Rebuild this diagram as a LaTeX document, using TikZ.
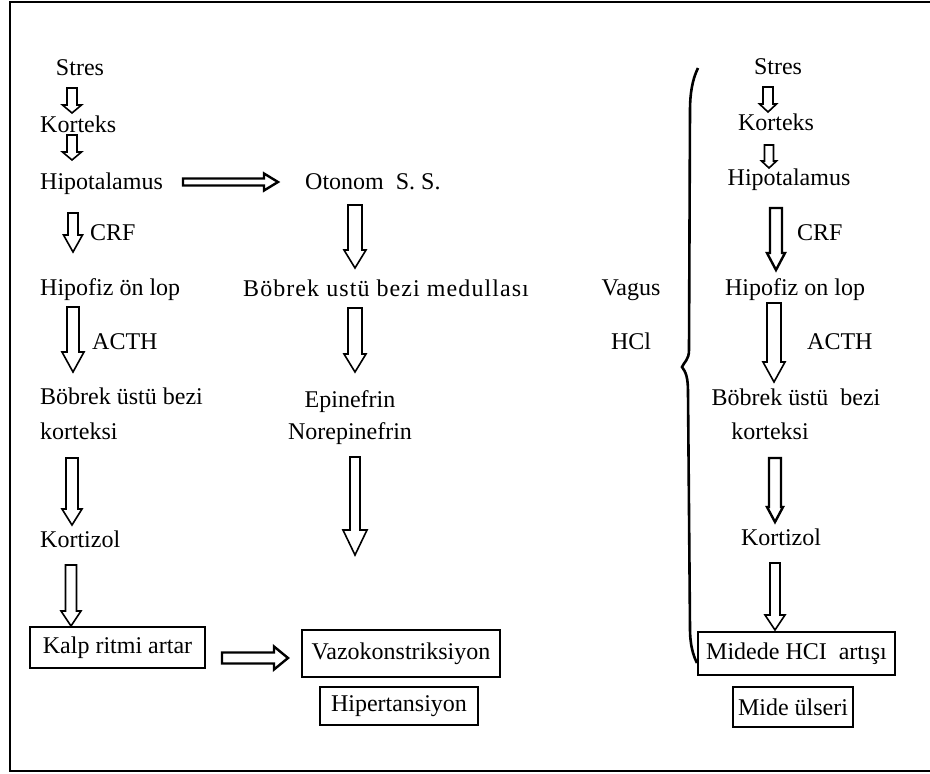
\documentclass[tikz,border=0pt]{standalone}
\usepackage{fontspec}
\setmainfont{Liberation Serif}
\usetikzlibrary{calc}
\tikzset{
  txt/.style={inner sep=0pt, font=\fontsize{24}{28}\selectfont},
  blk/.style={draw=black, line width=1.6pt, fill=white, line join=miter},
  blkb/.style={draw=black, line width=2.4pt, fill=white, line join=miter},
  bx/.style={draw=black, line width=2pt, inner sep=0pt, font=\fontsize{24}{28}\selectfont},
  bracel/.style={draw=black, line width=2.6pt},
  frame/.style={draw=black, line width=2pt}
}
\newcommand\vblk[6][blk]{\draw[#1] ($(#2)+(-#4,0)$) -- ($(#3)+(-#4,-#6)$) -- ($(#3)+(-#5,-#6)$) -- (#3) -- ($(#3)+(#5,-#6)$) -- ($(#3)+(#4,-#6)$) -- ($(#2)+(#4,0)$) -- cycle;}
\newcommand\hblk[6][blk]{\draw[#1] ($(#2)+(0,-#4)$) -- ($(#3)+(-#6,-#4)$) -- ($(#3)+(-#6,-#5)$) -- (#3) -- ($(#3)+(-#6,#5)$) -- ($(#3)+(-#6,#4)$) -- ($(#2)+(0,#4)$) -- cycle;}
\begin{document}
\begin{tikzpicture}[x=1pt,y=-1pt]
\useasboundingbox (0,0) rectangle (930,774);
% frame
\draw[frame] (930,2) -- (10,2) -- (10,771) -- (930,771);

% ---------- left column ----------
\node[txt, anchor=base] (stres) at (80,75) {Stres};
\node[txt, anchor=base west] (korteks) at (40,132) {Korteks};
\node[txt, anchor=base west] (hipo) at (40,189) {Hipotalamus};
\node[txt, anchor=base west] (crf) at (90,240) {CRF};
\node[txt, anchor=base west] (hipofiz) at (40,295) {Hipofiz ön lop};
\node[txt, anchor=base west] (acth) at (92,349) {ACTH};
\node[txt, anchor=base west] (bobrek) at (40,404) {Böbrek üstü bezi};
\node[txt, anchor=base west] (korteksi) at (40,439) {korteksi};
\node[txt, anchor=base west] (kortizol) at (40,547) {Kortizol};
\node[bx, minimum width=175pt, minimum height=41pt] (kalp) at (117.5,647.5) {Kalp ritmi artar};

% ---------- middle column ----------
\node[txt, anchor=base west] (otonom) at (305,189) {Otonom\ \ S.\ S.};
\node[txt, anchor=base west] (medulla) at (243,296) {\addfontfeatures{LetterSpace=4.5}Böbrek ustü bezi medullası};
\node[txt, anchor=base] (epi) at (350,407) {Epinefrin};
\node[txt, anchor=base] (norepi) at (350,439) {Norepinefrin};
\node[bx, minimum width=198pt, minimum height=47pt] (vazo) at (401,653.5) {Vazokonstriksiyon};
\node[bx, minimum width=158pt, minimum height=38pt] (hiper) at (399,706) {Hipertansiyon};

% ---------- right column ----------
\node[txt, anchor=base] (stresR) at (778,74) {Stres};
\node[txt, anchor=base] (korteksR) at (776,130) {Korteks};
\node[txt, anchor=base] (hipoR) at (789,185) {Hipotalamus};
\node[txt, anchor=base west] (crfR) at (797,240) {CRF};
\node[txt, anchor=base] (vagus) at (631,295) {Vagus};
\node[txt, anchor=base] (hipofizR) at (795,295) {Hipofiz on lop};
\node[txt, anchor=base] (hcl) at (631,349) {HCl};
\node[txt, anchor=base west] (acthR) at (807,349) {ACTH};
\node[txt, anchor=base] (bobrekR) at (796,405) {Böbrek üstü\ \ bezi};
\node[txt, anchor=base] (korteksiR) at (770,439) {korteksi};
\node[txt, anchor=base] (kortizolR) at (781,545) {Kortizol};
\node[bx, minimum width=197pt, minimum height=43pt] (midede) at (796.5,653.5) {Midede HCI\ \ artışı};
\node[bx, minimum width=120pt, minimum height=40pt] (ulser) at (793,707) {Mide ülseri};

% ---------- arrow end points ----------
\coordinate (l1s) at (72,88);   \coordinate (l1e) at (72,113);
\coordinate (l2s) at (72,135);  \coordinate (l2e) at (72,160);
\coordinate (l3s) at (73,213);  \coordinate (l3e) at (73,252);
\coordinate (l4s) at (73,307);  \coordinate (l4e) at (73,372);
\coordinate (l5s) at (72,458);  \coordinate (l5e) at (72,525);
\coordinate (l6s) at (71,565);  \coordinate (l6e) at (71,626);
\coordinate (h1s) at (183,182); \coordinate (h1e) at (278,182);
\coordinate (h2s) at (222,658); \coordinate (h2e) at (288,658);
\coordinate (m1s) at (355,205); \coordinate (m1e) at (355,268);
\coordinate (m2s) at (355,308); \coordinate (m2e) at (355,372);
\coordinate (m3s) at (355,457); \coordinate (m3e) at (355,555);
\coordinate (r1s) at (768,87);  \coordinate (r1e) at (768,112);
\coordinate (r2s) at (769,145); \coordinate (r2e) at (769,168);
\coordinate (r3s) at (776,208); \coordinate (r3e) at (776,270);
\coordinate (r4s) at (774,303); \coordinate (r4e) at (774,382);
\coordinate (r5s) at (775,458); \coordinate (r5e) at (775,522);
\coordinate (r6s) at (775,563); \coordinate (r6e) at (775,630);

% ---------- block arrows ----------
\vblk{l1s}{l1e}{5}{9.5}{8}
\vblk{l2s}{l2e}{5}{9.5}{8}
\vblk{l3s}{l3e}{5}{9.5}{17}
\vblk{l4s}{l4e}{6}{11}{20}
\vblk{l5s}{l5e}{6}{10}{16}
\vblk{l6s}{l6e}{5.5}{10}{15}
\hblk[blkb]{h1s}{h1e}{3.5}{8.5}{14}
\hblk[blkb]{h2s}{h2e}{5.5}{11.5}{14}
\vblk{m1s}{m1e}{7}{11}{18}
\vblk{m2s}{m2e}{7}{11}{18}
\vblk{m3s}{m3e}{5}{12}{25}
\vblk{r1s}{r1e}{5}{8.5}{8}
\vblk{r2s}{r2e}{4.5}{7.5}{7}
\vblk[blkb]{r3s}{r3e}{6}{9}{17}
\vblk{r4s}{r4e}{7}{11}{20}
\vblk[blkb]{r5s}{r5e}{6}{8}{15}
\vblk{r6s}{r6e}{5}{10}{15}

% ---------- brace ----------
\draw[bracel] (698,68) .. controls (692,80) and (690,95) .. (690,110)
  -- (689,350) .. controls (689,360) and (684,362) .. (682,367)
  .. controls (686,372) and (688,378) .. (688,392)
  -- (690,628) .. controls (690,645) and (693,655) .. (697,663);
\end{tikzpicture}
\end{document}
